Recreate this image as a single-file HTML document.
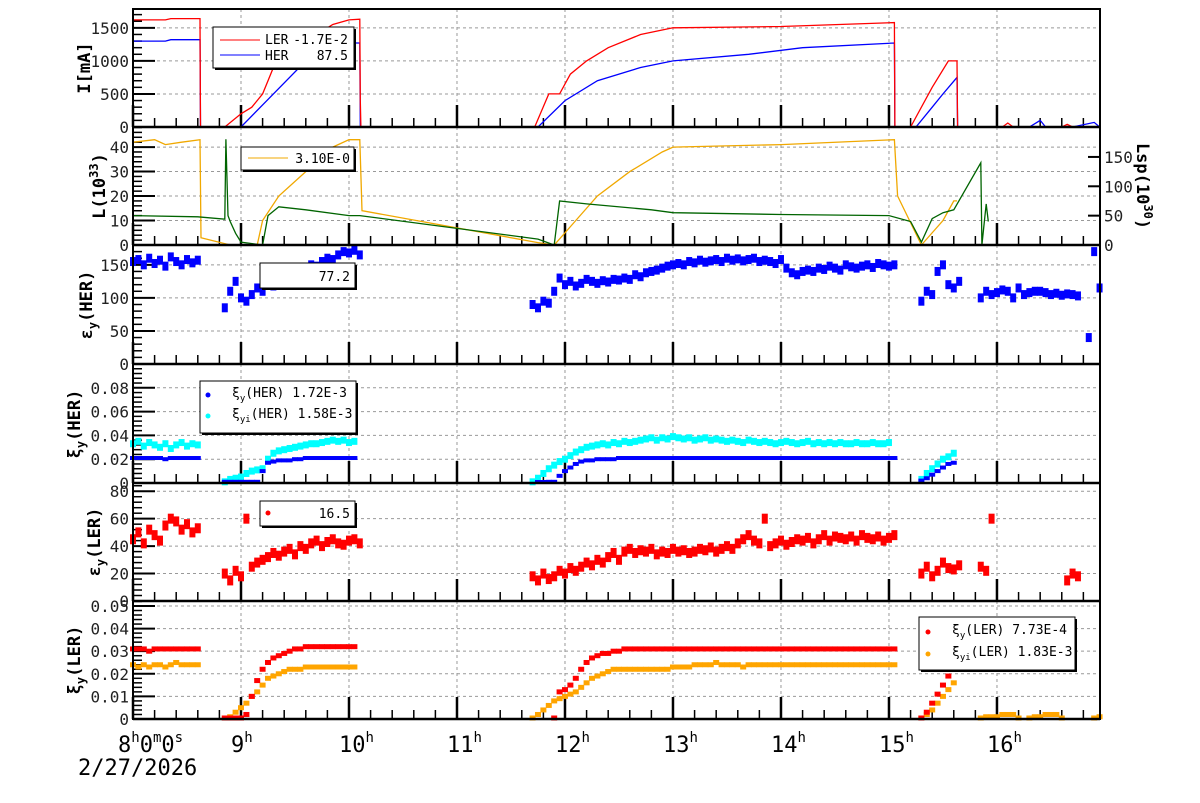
<!DOCTYPE html>
<html><head><meta charset="utf-8"><style>
body{margin:0;background:#fff;}
svg text{font-family:"DejaVu Sans Mono","Liberation Mono",monospace;}
</style></head><body>
<svg id="c" width="1200" height="798" xmlns="http://www.w3.org/2000/svg"></svg>
<script>
// ---- data (time in hours) ----
const lerIT=[8,8.3,8.35,8.62,8.625,8.85,9.0,9.1,9.2,9.25,9.3,9.45,9.55,9.7,9.85,10.0,10.1,10.105,10.11,11.72,11.85,11.95,12.05,12.2,12.4,12.7,13.0,14.0,15.05,15.055,15.2,15.4,15.55,15.63,15.635,16.05,16.1,16.15,16.6,16.65,16.7];
const lerIV=[1620,1620,1640,1640,0,0,200,300,500,700,900,1050,1200,1400,1550,1620,1630,400,0,0,500,500,800,1000,1200,1400,1500,1520,1580,0,0,600,1000,1000,0,0,60,0,0,40,0];
const herIT=[8,8.3,8.35,8.62,8.625,9.0,9.3,9.6,9.8,10.0,10.1,10.105,11.75,12.0,12.3,12.7,13.0,13.7,14.2,15.05,15.055,15.25,15.4,15.5,15.63,15.635,16.3,16.4,16.45,16.7,16.9,16.95];
const herIV=[1300,1300,1320,1320,0,0,500,1000,1200,1270,1270,0,0,400,700,900,1000,1100,1200,1270,0,0,300,500,750,0,0,100,0,0,70,0];
const lumT=[8,8.2,8.3,8.45,8.62,8.63,8.9,9.15,9.2,9.35,9.6,9.85,10.0,10.1,10.12,11.75,11.9,12.1,12.3,12.6,12.9,13.0,14.0,15.05,15.08,15.3,15.5,15.6,15.63];
const lumV=[42,43,41,42,43,3,0,0,10,20,30,40,43,43,14,1,0,10,20,30,38,40,41,43,20,0,10,18,18];
const lspT=[8,8.6,8.85,8.86,8.88,8.9,8.95,9.0,9.2,9.25,9.35,9.6,10.0,10.1,11.75,11.9,11.95,12.2,12.8,13.0,14.0,15.0,15.2,15.3,15.4,15.5,15.6,15.85,15.86,15.9,15.92];
const lspV=[50,48,44,180,50,40,20,5,0,50,65,60,50,50,10,0,75,70,60,55,52,50,40,5,45,55,60,140,0,70,40];
// scatter series: segment start times, values every 0.05 h
const STEP=0.05;
const eyHerStart=[8.0,8.85,11.7,15.3,15.85,16.4,16.85];
const eyHerVals=[[155,158,150,160,152,157,148,162,155,150,158,153,157],
[85,110,125,100,95,105,115,110,120,118,125,130,128,135,140,145,150,148,155,160,158,165,170,168,172,165],
[90,85,95,92,110,130,120,125,118,122,128,125,122,126,124,128,127,130,128,135,132,138,140,142,145,148,150,152,150,155,153,157,154,156,158,155,160,157,159,156,158,160,155,157,155,152,158,145,138,135,140,142,140,145,143,148,145,142,150,147,145,148,150,146,152,150,148,150],
[95,110,105,140,150,120,115,125],
[100,110,105,108,112,110,100,115,105,108,110],
[110,108,105,107,104,106,105,103],
[40,170,115,110]];
const xiHerStart=[8.0,8.85,11.75,15.3];
const xiHerVals=[[0.021,0.021,0.021,0.021,0.021,0.021,0.020,0.021,0.021,0.021,0.021,0.021,0.021],
[0.001,0.001,0.001,0.001,0.001,0.001,0.001,0.010,0.017,0.018,0.019,0.019,0.019,0.020,0.020,0.021,0.021,0.021,0.021,0.021,0.021,0.021,0.021,0.021,0.021],
[0.0,0.0,0.001,0.001,0.006,0.010,0.013,0.016,0.018,0.019,0.019,0.020,0.020,0.020,0.020,0.021,0.021,0.021,0.021,0.021,0.021,0.021,0.021,0.021,0.021,0.021,0.021,0.021,0.021,0.021,0.021,0.021,0.021,0.021,0.021,0.021,0.021,0.021,0.021,0.021,0.021,0.021,0.021,0.021,0.021,0.021,0.021,0.021,0.021,0.021,0.021,0.021,0.021,0.021,0.021,0.021,0.021,0.021,0.021,0.021,0.021,0.021,0.021,0.021,0.021,0.021,0.021],
[0.002,0.004,0.007,0.010,0.013,0.016,0.017]];
const xiiHerStart=[8.0,8.85,11.7,15.3];
const xiiHerVals=[[0.033,0.035,0.031,0.034,0.032,0.030,0.033,0.029,0.032,0.034,0.031,0.033,0.032],
[0.001,0.003,0.004,0.005,0.008,0.010,0.011,0.012,0.020,0.025,0.027,0.028,0.029,0.030,0.031,0.032,0.033,0.033,0.034,0.035,0.036,0.035,0.036,0.034,0.035],
[0.001,0.004,0.008,0.012,0.015,0.018,0.020,0.023,0.026,0.028,0.030,0.031,0.032,0.033,0.032,0.034,0.033,0.035,0.034,0.035,0.036,0.037,0.038,0.036,0.038,0.037,0.039,0.038,0.037,0.038,0.036,0.037,0.038,0.036,0.037,0.036,0.035,0.036,0.035,0.034,0.036,0.035,0.034,0.035,0.034,0.033,0.034,0.035,0.034,0.033,0.034,0.035,0.033,0.034,0.033,0.034,0.033,0.034,0.033,0.033,0.034,0.033,0.033,0.034,0.033,0.033,0.034],
[0.003,0.008,0.012,0.016,0.020,0.022,0.025]];
const eyLerStart=[8.0,8.85,11.7,15.3,15.85,16.65];
const eyLerVals=[[45,50,42,52,48,44,55,60,58,52,56,50,53],
[20,15,22,18,60,25,28,30,32,35,33,36,38,34,40,38,42,44,40,43,45,42,41,44,45,42],
[18,15,20,16,18,22,20,24,22,25,28,26,30,28,32,35,30,36,38,35,37,36,38,34,36,35,38,36,37,35,36,38,37,39,36,38,40,38,42,45,48,44,42,60,40,42,44,41,43,45,44,46,42,45,48,44,47,46,45,47,44,48,46,45,47,44,46,48],
[20,25,18,22,28,24,23,26],
[25,22,60],
[15,20,18]];
const xiLerStart=[8.0,8.85,11.9,15.3];
const xiLerVals=[[0.031,0.031,0.031,0.030,0.031,0.031,0.031,0.031,0.031,0.031,0.031,0.031,0.031],
[0.0,0.0,0.0,0.0,0.002,0.010,0.017,0.022,0.025,0.027,0.028,0.029,0.030,0.031,0.031,0.032,0.032,0.032,0.032,0.032,0.032,0.032,0.032,0.032,0.032],
[0.0,0.012,0.013,0.015,0.018,0.022,0.025,0.027,0.028,0.029,0.029,0.030,0.030,0.031,0.031,0.031,0.031,0.031,0.031,0.031,0.031,0.031,0.031,0.031,0.031,0.031,0.031,0.031,0.031,0.031,0.031,0.031,0.031,0.031,0.031,0.031,0.031,0.031,0.031,0.031,0.031,0.031,0.031,0.031,0.031,0.031,0.031,0.031,0.031,0.031,0.031,0.031,0.031,0.031,0.031,0.031,0.031,0.031,0.031,0.031,0.031,0.031,0.031,0.031],
[0.0,0.003,0.007,0.011,0.015,0.019,0.022,0.024]];
const xiiLerStart=[8.0,8.85,11.7,15.3,15.85,16.3,16.9];
const xiiLerVals=[[0.024,0.023,0.024,0.023,0.024,0.024,0.023,0.024,0.025,0.024,0.024,0.024,0.024],
[0.0,0.001,0.003,0.005,0.007,0.010,0.012,0.015,0.018,0.019,0.020,0.021,0.022,0.022,0.022,0.023,0.023,0.023,0.023,0.023,0.023,0.023,0.023,0.023,0.023],
[0.0,0.002,0.004,0.006,0.008,0.009,0.010,0.011,0.012,0.014,0.016,0.018,0.019,0.020,0.021,0.022,0.022,0.022,0.022,0.022,0.022,0.022,0.022,0.022,0.022,0.022,0.023,0.023,0.023,0.023,0.024,0.024,0.024,0.024,0.025,0.024,0.024,0.024,0.024,0.023,0.024,0.024,0.024,0.024,0.024,0.024,0.024,0.024,0.024,0.024,0.024,0.024,0.024,0.024,0.024,0.024,0.024,0.024,0.024,0.024,0.024,0.024,0.024,0.024,0.024,0.024,0.024,0.024],
[0.0,0.002,0.004,0.007,0.010,0.013,0.016],
[0.0,0.001,0.001,0.001,0.002,0.002,0.002,0.0],
[0.0,0.001,0.001,0.002,0.002,0.002,0.0],
[0.0,0.001]];
const hourTicks=[8,9,10,11,12,13,14,15,16];
const hourLabels=["8","9","10","11","12","13","14","15","16"];

// ---- geometry ----
const NS="http://www.w3.org/2000/svg";
const svg=document.getElementById('c');
const L0=133,R0=1100,T1=16.954;
function X(t){return L0+(t-8)*(R0-L0)/(T1-8);}
const panels=[
 {top:9,bot:127,max:1785,ticks:[0,500,1000,1500],lab:['0','500','1000','1500'],name:'current'},
 {top:127,bot:245,max:48.2,ticks:[0,10,20,30,40],lab:['0','10','20','30','40'],name:'luminosity'},
 {top:245,bot:364,max:180,ticks:[0,50,100,150],lab:['0','50','100','150'],name:'emittance-her'},
 {top:364,bot:483,max:0.1,ticks:[0,0.02,0.04,0.06,0.08],lab:['0','0.02','0.04','0.06','0.08'],name:'tune-shift-her'},
 {top:483,bot:601,max:86,ticks:[0,20,40,60,80],lab:['0','20','40','60','80'],name:'emittance-ler'},
 {top:601,bot:719,max:0.0522,ticks:[0,0.01,0.02,0.03,0.04,0.05],lab:['0','0.01','0.02','0.03','0.04','0.05'],name:'tune-shift-ler'}];
const lspMax=201;
function Y(p,v){return p.bot-(v/p.max)*(p.bot-p.top);}
function el(tag,attrs,parent){const e=document.createElementNS(NS,tag);for(const k in attrs)e.setAttribute(k,attrs[k]);(parent||svg).appendChild(e);return e;}

panels.forEach((p,i)=>{
 const g=el('g',{});
 
 
 hourTicks.forEach(h=>{if(h>8)el('line',{x1:X(h),x2:X(h),y1:p.top,y2:p.bot,stroke:'#999','stroke-dasharray':'3,3','stroke-width':1},g);});
 p.ticks.forEach((v,j)=>{const y=Y(p,v);
  if(v>0)el('line',{x1:L0,x2:R0,y1:y,y2:y,stroke:'#999','stroke-dasharray':'3,3','stroke-width':1},g);
  el('line',{x1:L0,x2:L0+22,y1:y,y2:y,stroke:'#000','stroke-width':2},g);
  const t=el('text',{x:L0-4,y:y+6,'text-anchor':'end','font-size':16,fill:'#222'},g);t.textContent=p.lab[j];
  
  
  const step=(p.ticks[1]-p.ticks[0])/5;for(let k=1;k<5;k++){const vv=v+k*step;if(vv<p.max)el('line',{x1:L0,x2:L0+9,y1:Y(p,vv),y2:Y(p,vv),stroke:'#000','stroke-width':1.5},g);}
 });
 for(let m=8;m<=17;m+=0.2){const x=X(m);if(x>R0)break;const maj=Math.abs(m-Math.round(m))<0.01;
  el('line',{x1:x,x2:x,y1:p.bot,y2:p.bot-(maj?22:9),stroke:'#000','stroke-width':maj?2.5:1.5},g);}
});

function polyline(T,V,p,color,name,w,scale){
 const pts=T.map((t,i)=>X(t).toFixed(1)+','+(scale?scale(V[i]):Y(p,V[i])).toFixed(1)).join(' ');
 const e=el('polyline',{points:pts,fill:'none',stroke:color,'stroke-width':w||1.3});
 
 
}
function scatter(starts,vals,p,color,name,h){
 const g=el('g',{fill:color});
 
 
 const w=X(8+STEP)-X(8)+0.6;
 starts.forEach((s,i)=>vals[i].forEach((v,j)=>{const t=s+j*STEP;if(t>T1)return;
  const x=X(t),y=Math.min(Y(p,v),p.bot-1);
  el('rect',{x:x-w/2,y:y-h/2,width:w,height:h},g);}));
}
const P=panels;
polyline(herIT,herIV,P[0],'#0000ff','her-current-line');
polyline(lerIT,lerIV,P[0],'#ff0000','ler-current-line');
polyline(lumT,lumV,P[1],'#f0a800','luminosity-line');
polyline(lspT,lspV,P[1],'#006400','specific-luminosity-line',1.3,v=>P[1].bot-v/lspMax*(P[1].bot-P[1].top));
scatter(eyHerStart,eyHerVals,P[2],'#0000ff','emittance-her-points',9);
scatter(xiiHerStart,xiiHerVals,P[3],'#00ffff','xi-yi-her-points',7);
scatter(xiHerStart,xiHerVals,P[3],'#0000ff','xi-y-her-points',4);
scatter(eyLerStart,eyLerVals,P[4],'#ff0000','emittance-ler-points',10);
scatter(xiiLerStart,xiiLerVals,P[5],'#ffa500','xi-yi-ler-points',5);
scatter(xiLerStart,xiLerVals,P[5],'#ff0000','xi-y-ler-points',5);

panels.forEach(p=>{el('line',{x1:L0,x2:R0,y1:p.bot,y2:p.bot,stroke:'#000','stroke-width':2.5});});
el('rect',{x:L0,y:9,width:R0-L0,height:710,fill:'none',stroke:'#000','stroke-width':2});
[0,50,100,150].forEach(v=>{const y=P[1].bot-v/lspMax*(P[1].bot-P[1].top);
 el('line',{x1:R0,x2:R0-12,y1:y,y2:y,stroke:'#000','stroke-width':2});
 const t=el('text',{x:R0+4,y:y+6,'font-size':16,fill:'#222'});t.textContent=v;
 
 });

hourTicks.forEach((h,i)=>{const t=el('text',{x:X(h)+(i==0?-15:-10),y:752,'font-size':22,fill:'#000'});
 
 
 if(i==0){t.innerHTML='8<tspan font-size="14" dy="-10">h</tspan><tspan dy="10">0</tspan><tspan font-size="14" dy="-10">m</tspan><tspan dy="10">0</tspan><tspan font-size="14" dy="-10">s</tspan>';}
 else t.innerHTML=hourLabels[i]+'<tspan font-size="14" dy="-10">h</tspan>';});
</script>
<svg width="1200" height="798" style="position:absolute;left:0;top:0" xmlns="http://www.w3.org/2000/svg">
<g font-family="DejaVu Sans Mono, Liberation Mono, monospace">
<text x="78" y="775" font-size="22">2/27/2026</text>
<g font-weight="bold" font-size="17" fill="#000">
<text transform="translate(90,68) rotate(-90)" text-anchor="middle">I[mA]</text>
<text transform="translate(105,186) rotate(-90)" text-anchor="middle">L(10<tspan font-size="12" dy="-7">33</tspan><tspan dy="7">)</tspan></text>
<text transform="translate(92,305) rotate(-90)" text-anchor="middle">ε<tspan font-size="12" dy="5">y</tspan><tspan dy="-5">(HER)</tspan></text>
<text transform="translate(80,424) rotate(-90)" text-anchor="middle">ξ<tspan font-size="12" dy="5">y</tspan><tspan dy="-5">(HER)</tspan></text>
<text transform="translate(100,542) rotate(-90)" text-anchor="middle">ε<tspan font-size="12" dy="5">y</tspan><tspan dy="-5">(LER)</tspan></text>
<text transform="translate(80,660) rotate(-90)" text-anchor="middle">ξ<tspan font-size="12" dy="5">y</tspan><tspan dy="-5">(LER)</tspan></text>
<text transform="translate(1137,186) rotate(90)" text-anchor="middle">Lsp(10<tspan font-size="12" dy="-7">30</tspan><tspan dy="7">)</tspan></text>
</g>
<g font-size="13" fill="#000">
<g>
<rect x="215" y="29" width="141" height="41" fill="#000"/><rect x="213" y="27" width="141" height="41" fill="#fff" stroke="#000"/>
<line x1="220" y1="40" x2="260" y2="40" stroke="#f00"/><text x="265" y="44">LER</text><text x="348" y="44" text-anchor="end">-1.7E-2</text>
<line x1="220" y1="55" x2="260" y2="55" stroke="#00f"/><text x="265" y="60">HER</text><text x="348" y="60" text-anchor="end">87.5</text>
</g>
<g>
<rect x="243" y="149" width="113" height="23" fill="#000"/><rect x="241" y="147" width="113" height="23" fill="#fff" stroke="#000"/>
<line x1="248" y1="158" x2="288" y2="158" stroke="#f0a800"/><text x="350" y="163" text-anchor="end">3.10E-0</text>
</g>
<g>
<rect x="262" y="265" width="95" height="25" fill="#000"/><rect x="260" y="263" width="95" height="25" fill="#fff" stroke="#000"/>
<text x="350" y="281" text-anchor="end">77.2</text>
</g>
<g>
<rect x="202" y="383" width="156" height="52" fill="#000"/><rect x="200" y="381" width="156" height="52" fill="#fff" stroke="#000"/>
<circle cx="208" cy="395" r="2.5" fill="#00f"/><text x="232" y="397">ξ<tspan font-size="9" dy="4">y</tspan><tspan dy="-4">(HER)  1.72E-3</tspan></text>
<circle cx="208" cy="416" r="2.5" fill="#0ff"/><text x="232" y="418">ξ<tspan font-size="9" dy="4">yi</tspan><tspan dy="-4">(HER)  1.58E-3</tspan></text>
</g>
<g>
<rect x="262" y="503" width="95" height="25" fill="#000"/><rect x="260" y="501" width="95" height="25" fill="#fff" stroke="#000"/>
<circle cx="268" cy="513" r="2.5" fill="#f00"/><text x="350" y="518" text-anchor="end">16.5</text>
</g>
<g>
<rect x="921" y="619" width="156" height="53" fill="#000"/><rect x="919" y="617" width="156" height="53" fill="#fff" stroke="#000"/>
<circle cx="928" cy="632" r="2.5" fill="#f00"/><text x="952" y="634">ξ<tspan font-size="9" dy="4">y</tspan><tspan dy="-4">(LER)   7.73E-4</tspan></text>
<circle cx="928" cy="654" r="2.5" fill="#ffa500"/><text x="952" y="656">ξ<tspan font-size="9" dy="4">yi</tspan><tspan dy="-4">(LER)   1.83E-3</tspan></text>
</g>
</g>
</g>
</svg>
</body></html>
